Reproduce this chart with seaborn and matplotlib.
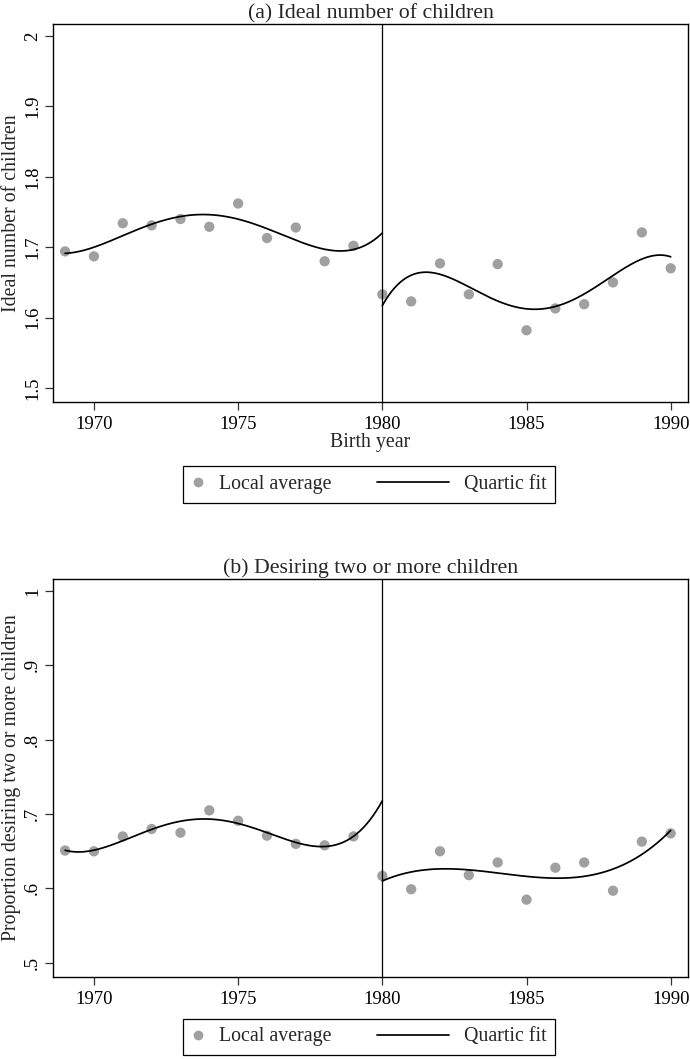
import numpy as np
import pandas as pd
import matplotlib
matplotlib.use("Agg")
import matplotlib.pyplot as plt
import seaborn as sns
from matplotlib.lines import Line2D
from matplotlib.legend_handler import HandlerLine2D


# --- Data --------------------------------------------------------------------
birth_year = list(range(1969, 1991))
ideal_children = [1.694, 1.687, 1.734, 1.731, 1.740, 1.729, 1.762, 1.713, 1.728,
                  1.680, 1.702, 1.633, 1.623, 1.677, 1.633, 1.676, 1.582, 1.613,
                  1.619, 1.650, 1.721, 1.670]
share_two_plus = [0.651, 0.650, 0.670, 0.680, 0.675, 0.705, 0.691, 0.671, 0.660,
                  0.658, 0.670, 0.617, 0.599, 0.650, 0.618, 0.635, 0.585, 0.628,
                  0.635, 0.597, 0.663, 0.674]
cutoff = 1980

x_ticks = [1970, 1975, 1980, 1985, 1990]
a_ticks = [1.5, 1.6, 1.7, 1.8, 1.9, 2.0]
a_tick_labels = ["1.5", "1.6", "1.7", "1.8", "1.9", "2"]
b_ticks = [0.5, 0.6, 0.7, 0.8, 0.9, 1.0]
b_tick_labels = [".5", ".6", ".7", ".8", ".9", "1"]

df = pd.DataFrame({"year": birth_year, "ideal": ideal_children, "two_plus": share_two_plus})


# --- Style -------------------------------------------------------------------
sns.set_style("ticks")
plt.rcParams["font.family"] = ["Liberation Serif", "DejaVu Serif"]
plt.rcParams["axes.edgecolor"] = "black"
plt.rcParams["axes.linewidth"] = 1.0

DOT = "#a0a0a0"


def quartic_fit(col):
    # separate quartic fit on each side of the 1980 cutoff
    parts = []
    for side, lo, hi in [("left", 1969, 1980), ("right", 1980, 1990)]:
        sub = df[df["year"] < cutoff] if side == "left" else df[df["year"] >= cutoff]
        coef = np.polyfit(sub["year"] - cutoff, sub[col], 4)
        grid = np.linspace(lo, hi, 200)
        parts.append(pd.DataFrame({"year": grid,
                                   "fit": np.polyval(coef, grid - cutoff),
                                   "side": side}))
    return pd.concat(parts, ignore_index=True)


class LongLine(HandlerLine2D):
    # draws the line handle further to the left than its handle box
    def create_artists(self, legend, orig_handle, xdescent, ydescent, width,
                       height, fontsize, trans):
        extra = 3.0 * fontsize
        return super().create_artists(legend, orig_handle, xdescent + extra,
                                      ydescent, width + extra, height,
                                      fontsize, trans)


def draw_panel(ax, col, title, ylabel, yticks, yticklabels, ylim, xlabel):
    sns.scatterplot(data=df, x="year", y=col, color=DOT, s=55,
                    edgecolor="none", ax=ax, zorder=2, legend=False)
    sns.lineplot(data=quartic_fit(col), x="year", y="fit", units="side",
                 estimator=None, color="black", linewidth=1.25, ax=ax, zorder=3)
    ax.axvline(cutoff, color="black", linewidth=0.9, zorder=4)

    ax.set_xlim(1968.58, 1990.6)
    ax.set_ylim(*ylim)
    ax.set_xticks(x_ticks)
    ax.set_xticklabels([str(t) for t in x_ticks])
    ax.set_yticks(yticks)
    ax.set_yticklabels(yticklabels)
    plt.setp(ax.get_yticklabels(), rotation=90, va="center")
    ax.tick_params(axis="both", labelsize=13.5, length=6, width=0.9,
                   color="#333333", labelcolor="black")
    ax.tick_params(axis="y", pad=2.5)
    ax.tick_params(axis="x", pad=4)

    ax.set_title(title, fontsize=15.7, pad=4)
    ax.set_ylabel(ylabel, fontsize=14.3, labelpad=2)
    ax.set_xlabel(xlabel, fontsize=14.3, labelpad=0)
    for s in ax.spines.values():
        s.set_visible(True)
        s.set_color("black")


fig = plt.figure(figsize=(6.9, 10.59), dpi=100)
ax_a = fig.add_axes([0.0768, 0.6204, 0.9203, 0.3569])
ax_b = fig.add_axes([0.0768, 0.0774, 0.9203, 0.3759])

draw_panel(ax_a, "ideal", "(a) Ideal number of children",
           "Ideal number of children", a_ticks, a_tick_labels,
           (1.4801, 2.017), "Birth year")
draw_panel(ax_b, "two_plus", "(b) Desiring two or more children",
           "Proportion desiring two or more children", b_ticks, b_tick_labels,
           (0.481, 1.016), "")

# --- Legends -----------------------------------------------------------------
for yc in [0.5425, 0.0208]:
    dot = Line2D([], [], marker="o", linestyle="none", color=DOT,
                 markeredgecolor="none", markersize=7)
    line = Line2D([], [], color="black", linewidth=1.25)
    leg = fig.legend([dot, line], ["Local average", "Quartic fit"],
                     loc="center", bbox_to_anchor=(0.535, yc), ncol=2,
                     handlelength=0.6, handletextpad=0.75, columnspacing=5.3,
                     borderpad=0.45, frameon=True, fancybox=False,
                     edgecolor="black", framealpha=1, fontsize=14.3,
                     handler_map={line: LongLine()})
    leg.get_frame().set_linewidth(0.9)

fig.savefig("out.png", dpi=100)
plt.close(fig)
